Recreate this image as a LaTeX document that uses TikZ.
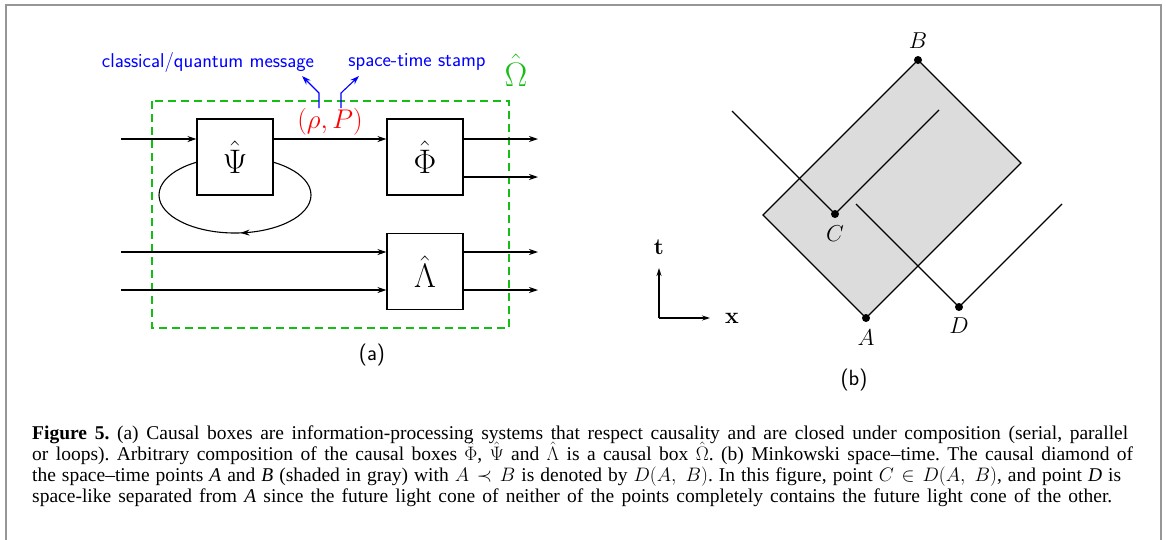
\RequirePackage{fix-cm}
\documentclass[tikz,border=0pt]{standalone}
\usepackage[no-math]{fontspec}
\setmainfont{Liberation Serif}
\usetikzlibrary{arrows.meta,decorations.markings}

\definecolor{dashgreen}{RGB}{20,190,20}
\definecolor{framegray}{RGB}{150,150,150}
\definecolor{diamondgray}{RGB}{220,220,220}

\tikzset{
  box/.style={draw, line width=1.1pt, fill=white, minimum width=76pt, minimum height=76pt,
              inner sep=0pt, font=\fontsize{34}{36}\selectfont},
  wire/.style={line width=1.1pt, -{Stealth[length=9pt,width=6pt]}},
  bluewire/.style={blue, line width=1.1pt, -{Stealth[length=9pt,width=6pt]}},
  bluelabel/.style={text=blue, inner sep=0pt, font=\sffamily\fontsize{20}{22}\selectfont},
  sublabel/.style={inner sep=0pt, font=\sffamily\fontsize{22}{24}\selectfont},
  cone/.style={line width=1.1pt},
  ptlabel/.style={inner sep=0pt, font=\fontsize{23}{25}\selectfont},
  capline/.style={anchor=base west, inner sep=0pt, font=\fontsize{19.5}{21}\selectfont\frenchspacing},
}

\begin{document}
\begin{tikzpicture}[x=1pt,y=-1pt]
\useasboundingbox (0,0) rectangle (1166,539);

% outer frame of the figure
\draw[framegray, line width=2pt] (6,545) -- (6,5) -- (1161,5) -- (1161,545);

% ---------------- (a) causal boxes ----------------
\draw[dashgreen, line width=1.2pt, dash pattern=on 8pt off 5pt] (152,101) rectangle (509,328);
\node[text=dashgreen, inner sep=0pt, font=\fontsize{34}{36}\selectfont] (omega) at (516,70) {$\hat\Omega$};

% feedback loop of Psi
\draw[line width=1.1pt, postaction={decorate},
      decoration={markings, mark=at position 0.765 with {\arrowreversed{Stealth[length=9pt,width=6pt]}}}]
      (235,195) ellipse [x radius=76pt, y radius=38pt];

\node[box] (psi) at (235,157) {$\hat\Psi$};
\node[box] (phi) at (425,157) {$\hat\Phi$};
\node[box] (lam) at (425,271.5) {$\hat\Lambda$};

\coordinate (inA) at (121,139);
\coordinate (inB) at (121,252);
\coordinate (inC) at (121,290);
\coordinate (outA) at (538,139);
\coordinate (outB) at (538,177);
\coordinate (outC) at (538,252);
\coordinate (outD) at (538,290);

\draw[wire] (inA) -- (inA -| psi.west);
\draw[wire] (psi.east |- inA) -- (phi.west |- inA);
\draw[wire] (phi.east |- outA) -- (outA);
\draw[wire] (phi.east |- outB) -- (outB);
\draw[wire] (inB) -- (inB -| lam.west);
\draw[wire] (inC) -- (inC -| lam.west);
\draw[wire] (lam.east |- outC) -- (outC);
\draw[wire] (lam.east |- outD) -- (outD);

% message and its stamp
\node[text=red, inner sep=0pt, font=\fontsize{27}{30}\selectfont] (rp) at (330,122) {$(\rho,P)$};
\node[bluelabel] (msg) at (208,62) {classical/quantum message};
\node[bluelabel] (stamp) at (417,62) {space-time stamp};
\coordinate (msgtail) at (319,108);
\coordinate (msgbend) at (319,93);
\coordinate (msgtip) at (302,76);
\coordinate (stamptail) at (341,108);
\coordinate (stampbend) at (341,93);
\coordinate (stamptip) at (359,76);
\draw[bluewire] (msgtail) -- (msgbend) -- (msgtip);
\draw[bluewire] (stamptail) -- (stampbend) -- (stamptip);

\node[sublabel] (capa) at (372,355) {(a)};

% ---------------- (b) Minkowski space-time ----------------
\coordinate (A) at (866,318);
\coordinate (R) at (1021,163);
\coordinate (B) at (918,60);
\coordinate (L) at (763,215);
\coordinate (C) at (835,214);
\coordinate (D) at (959,307);
\coordinate (Cl) at (732,111);
\coordinate (Cr) at (939,110);
\coordinate (Dl) at (856,204);
\coordinate (Dr) at (1062,204);

\draw[cone, fill=diamondgray] (A) -- (R) -- (B) -- (L) -- cycle;
\draw[cone] (Cl) -- (C) -- (Cr);
\draw[cone] (Dl) -- (D) -- (Dr);

\foreach \p in {A,B,C,D} \fill (\p) circle (4pt);

\node[ptlabel] (labB) at (918,41) {$B$};
\node[ptlabel] (labA) at (866,338) {$A$};
\node[ptlabel] (labC) at (835,234) {$C$};
\node[ptlabel] (labD) at (959,326) {$D$};

% axes
\coordinate (O) at (659,318);
\coordinate (tend) at (659,268);
\coordinate (xend) at (710,318);
\draw[line width=1.1pt, -{Stealth[length=8pt,width=5pt]}] (O) -- (tend);
\draw[line width=1.1pt, -{Stealth[length=8pt,width=5pt]}] (O) -- (xend);
\node[ptlabel] (labt) at (659,247) {$\mathbf{t}$};
\node[ptlabel] (labx) at (732,318) {$\mathbf{x}$};

\node[sublabel] (capb) at (854,380) {(b)};

% ---------------- caption ----------------
\node[capline] (cap1) at (32,439) {\makebox[1096pt][s]{\textbf{Figure 5.} (a) Causal boxes are information-processing systems that respect causality and are closed under composition (serial, parallel}};
\node[capline] (cap2) at (32,460) {\makebox[1101pt][s]{or loops). Arbitrary composition of the causal boxes $\hat\Phi$, $\hat\Psi$ and $\hat\Lambda$ is a causal box $\hat\Omega$. (b) Minkowski space--time. The causal diamond of}};
\node[capline] (cap3) at (32,481) {\makebox[1089pt][s]{the space--time points \textit{A} and \textit{B} (shaded in gray) with $A \prec B$ is denoted by $D(A,\ B)$. In this figure, point $C \in D(A,\ B)$, and point \textit{D} is}};
\node[capline] (cap4) at (32,502) {\makebox[1080pt][s]{space-like separated from \textit{A} since the future light cone of neither of the points completely contains the future light cone of the other.}};
\end{tikzpicture}
\end{document}
